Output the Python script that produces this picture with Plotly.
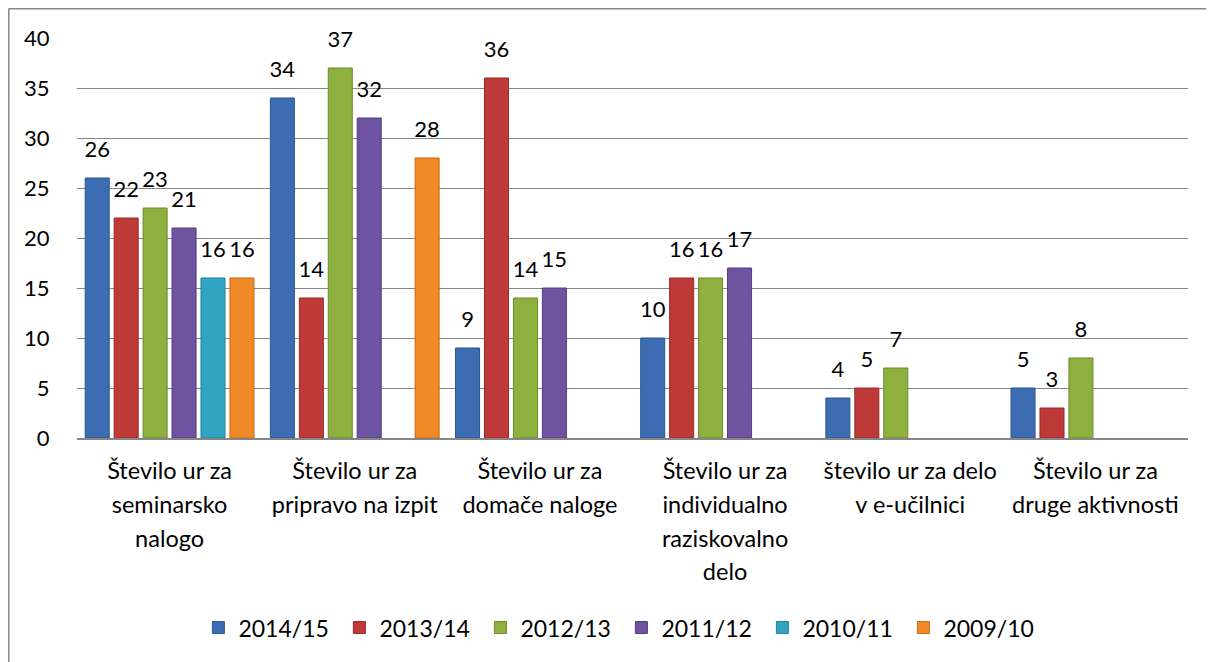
import plotly.graph_objects as go

categories = [
    "Število ur za<br>seminarsko<br>nalogo",
    "Število ur za<br>pripravo na izpit",
    "Število ur za<br>domače naloge",
    "Število ur za<br>individualno<br>raziskovalno<br>delo",
    "število ur za delo<br>v e-učilnici",
    "Število ur za<br>druge aktivnosti",
]
series_names = ["2014/15", "2013/14", "2012/13", "2011/12", "2010/11", "2009/10"]
v_2014_15 = [26, 34, 9, 10, 4, 5]
v_2013_14 = [22, 14, 36, 16, 5, 3]
v_2012_13 = [23, 37, 14, 16, 7, 8]
v_2011_12 = [21, 32, 15, 17, None, None]
v_2010_11 = [16, None, None, None, None, None]
v_2009_10 = [16, 28, None, None, None, None]
series_values = [v_2014_15, v_2013_14, v_2012_13, v_2011_12, v_2010_11, v_2009_10]
y_ticks = [0, 5, 10, 15, 20, 25, 30, 35, 40]

fills = ["#3C6DB3", "#BE3A38", "#8DB03F", "#6E53A0", "#31A4C2", "#F08A26"]
edges = ["#2B5591", "#962B29", "#6C8A2D", "#533C7E", "#22809A", "#C46A15"]

FONT = "Lato, 'Open Sans', sans-serif"
SPAN = "<span style='font-size:23.5px'>"
ticktext = [SPAN + c.replace("<br>", "</span><br>" + SPAN) + "</span>" for c in categories]
xs = list(range(len(categories)))

fig = go.Figure()
for name, vals, fc, ec in zip(series_names, series_values, fills, edges):
    fig.add_trace(go.Bar(
        name=name, x=xs, y=vals, offsetgroup=name, alignmentgroup="g",
        marker=dict(color=fc, line=dict(color=ec, width=1)),
        hoverinfo="skip",
    ))
for name, vals in zip(series_names, series_values):
    fig.add_trace(go.Scatter(
        x=xs, y=vals, offsetgroup=name, alignmentgroup="g",
        mode="markers+text", text=[("" if v is None else str(v)) for v in vals],
        textposition="top center", textfont=dict(family=FONT, size=22, color="#000000"),
        marker=dict(size=24, opacity=0), showlegend=False, hoverinfo="skip", cliponaxis=False,
    ))

fig.update_layout(
    width=1214, height=662,
    margin=dict(l=69, r=34, t=30, b=232),
    paper_bgcolor="white", plot_bgcolor="white",
    barmode="group", bargap=0.062, bargroupgap=0.17,
    scattermode="group", scattergap=0.062,
    font=dict(family=FONT, color="#000000"),
    legend=dict(orientation="h", x=0.49, xanchor="center", y=-0.474, yanchor="middle",
                font=dict(family=FONT, size=23), entrywidth=96, itemwidth=30),
    shapes=[
        dict(type="line", xref="paper", yref="paper", x0=-0.0614, x1=1.05, y0=1.073, y1=1.073,
             line=dict(color="#878787", width=1.5)),
        dict(type="line", xref="paper", yref="paper", x0=-0.0614, x1=-0.0614, y0=1.073, y1=-0.6,
             line=dict(color="#878787", width=1.5)),
    ],
)
fig.update_yaxes(range=[0, 40], tickvals=y_ticks, showgrid=True, gridcolor="#868686", gridwidth=1,
                 zeroline=False, showline=False, ticks="outside", ticklen=22, tickcolor="rgba(0,0,0,0)",
                 tickfont=dict(family=FONT, size=22, color="#000000"))
fig.update_xaxes(range=[-0.5, 5.5], tickvals=xs, ticktext=ticktext, showline=True, linecolor="#868686",
                 linewidth=1.5, ticks="outside", ticklen=8, tickcolor="rgba(0,0,0,0)",
                 tickfont=dict(family=FONT, size=26, color="#000000"), tickangle=0)

fig.write_html("out.html")
